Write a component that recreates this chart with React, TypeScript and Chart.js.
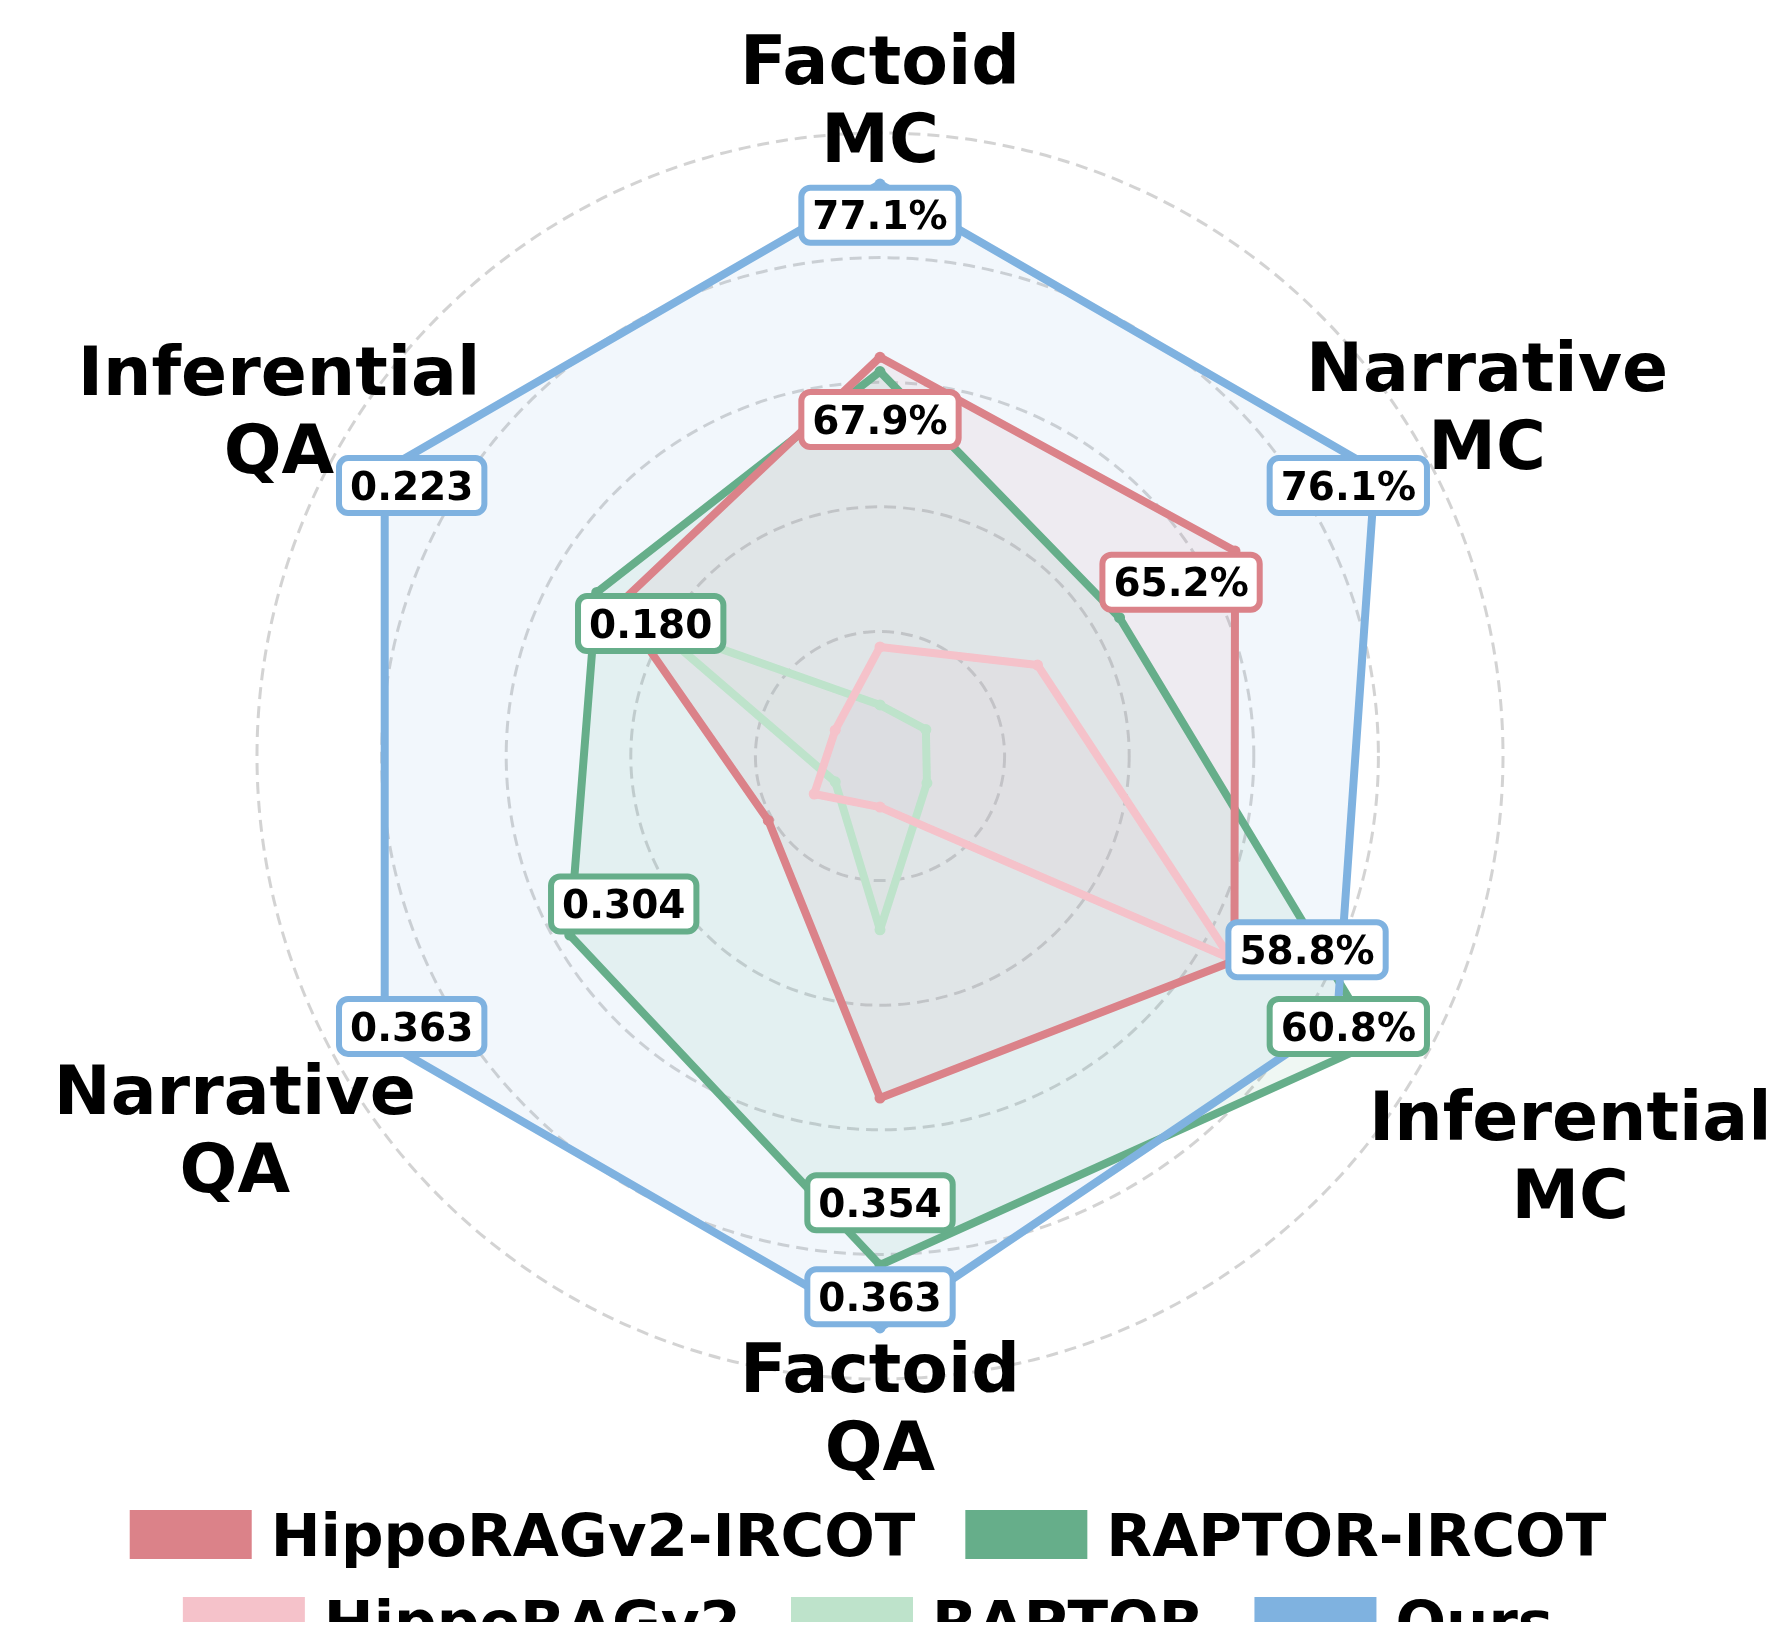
import React, { useEffect, useRef } from "react";
import { Chart, registerables } from "chart.js";

Chart.register(...registerables);

// ---------------- data ----------------
const AXIS_LABELS: string[][] = [
  ["Factoid", "MC"],
  ["Narrative", "MC"],
  ["Inferential", "MC"],
  ["Factoid", "QA"],
  ["Narrative", "QA"],
  ["Inferential", "QA"],
];

const SERIES_NAMES = ["HippoRAGv2-IRCOT", "RAPTOR-IRCOT", "HippoRAGv2", "RAPTOR", "Ours"];

// normalized (plotted) scores per axis, in AXIS_LABELS order
const HIPPORAG_IRCOT = [0.64, 0.658, 0.657, 0.549, 0.207, 0.485];
const RAPTOR_IRCOT = [0.617, 0.444, 0.918, 0.817, 0.575, 0.525];
const HIPPORAG = [0.175, 0.292, 0.65, 0.082, 0.122, 0.083];
const RAPTOR = [0.082, 0.085, 0.087, 0.279, 0.083, 0.421];
const OURS = [0.918, 0.918, 0.847, 0.918, 0.918, 0.918];

// annotated raw scores (best and runner-up on each axis)
const BEST_SERIES = [4, 4, 1, 4, 4, 4];
const BEST_SCORES = ["77.1%", "76.1%", "60.8%", "0.363", "0.363", "0.223"];
const SECOND_SERIES = [0, 0, 4, 1, 1, 1];
const SECOND_SCORES = ["67.9%", "65.2%", "58.8%", "0.354", "0.304", "0.180"];

const LEGEND_ROWS = [
  [0, 1],
  [2, 3, 4],
];

// ---------------- style / layout ----------------
const COLORS = ["#DB8289", "#66AE8A", "#F5C2CA", "#BEE3CB", "#7FB2E0"];
const FILL_ALPHA = 0.1;
const DRAW_ORDER = [1, 2, 3, 4, 0];
const FONT = '"DejaVu Sans", "Liberation Sans", sans-serif';
const AXIS_FONT = 68;
const AXIS_LINE = 78;
const AXIS_LABEL_GAP = [35, 78, 174, 27, 122, 71];
const TAG_FONT = 39;
const BEST_DROP = 0.05;
const SECOND_DROP = 0.1;
const SECOND_NUDGE = [
  [0, 0],
  [0, 0],
  [24, -39],
  [0, 0],
  [0, 0],
  [0, 0],
];
const LEGEND_FONT = 59.5;
const LEGEND_CENTER_X = 860;
const LEGEND_ROW_TOP = [1502, 1589];
const CANVAS_W = 1768;
const CANVAS_H = 1622;

function hexToRgba(hex: string, a: number) {
  const n = parseInt(hex.slice(1), 16);
  return `rgba(${(n >> 16) & 255},${(n >> 8) & 255},${n & 255},${a})`;
}

const overlayPlugin = {
  id: "overlay",
  afterDatasetsDraw(chart: any) {
    const ctx: CanvasRenderingContext2D = chart.ctx;
    const scale = chart.scales.r;
    ctx.save();

    // axis titles
    ctx.fillStyle = "#000";
    ctx.textAlign = "center";
    ctx.textBaseline = "alphabetic";
    ctx.font = `bold ${AXIS_FONT}px ${FONT}`;
    const cap = 0.729 * AXIS_FONT;
    AXIS_LABELS.forEach((lines, i) => {
      const p = scale.getPointPosition(i, scale.drawingArea + AXIS_LABEL_GAP[i]);
      const b1 = p.y + cap / 2 - AXIS_LINE / 2;
      lines.forEach((t, k) => ctx.fillText(t, p.x, b1 + k * AXIS_LINE));
    });

    // score tags
    ctx.font = `bold ${TAG_FONT}px ${FONT}`;
    const drawTag = (axis: number, series: number, text: string, drop: number, nudge: number[]) => {
      const v = chart.data.datasets[series].data[axis] as number;
      const p = scale.getPointPositionForValue(axis, v - drop);
      const cx = p.x + nudge[0];
      const cy = p.y + nudge[1];
      const tw = ctx.measureText(text).width;
      const w = tw + 22;
      const h = 55;
      ctx.beginPath();
      (ctx as any).roundRect(cx - w / 2, cy - h / 2, w, h, 9);
      ctx.fillStyle = "#ffffff";
      ctx.fill();
      ctx.lineWidth = 6;
      ctx.strokeStyle = COLORS[series];
      ctx.stroke();
      ctx.fillStyle = "#000";
      ctx.fillText(text, cx, cy + 0.3645 * TAG_FONT);
    };
    AXIS_LABELS.forEach((_, i) => {
      drawTag(i, SECOND_SERIES[i], SECOND_SCORES[i], SECOND_DROP, SECOND_NUDGE[i]);
      drawTag(i, BEST_SERIES[i], BEST_SCORES[i], BEST_DROP, [0, 0]);
    });

    // legend
    ctx.font = `bold ${LEGEND_FONT}px ${FONT}`;
    ctx.textAlign = "left";
    const boxW = 122;
    const boxH = 49;
    const gap = 19;
    const itemGap = 50;
    LEGEND_ROWS.forEach((row, r) => {
      const widths = row.map((s) => boxW + gap + ctx.measureText(SERIES_NAMES[s]).width);
      const total = widths.reduce((a, b) => a + b, 0) + itemGap * (row.length - 1);
      let x = LEGEND_CENTER_X - total / 2;
      const top = LEGEND_ROW_TOP[r];
      row.forEach((s, k) => {
        ctx.fillStyle = COLORS[s];
        ctx.fillRect(x, top, boxW, boxH);
        ctx.fillStyle = "#000";
        ctx.fillText(SERIES_NAMES[s], x + boxW + gap, top + boxH / 2 + 0.3645 * LEGEND_FONT);
        x += widths[k] + itemGap;
      });
    });
    ctx.restore();
  },
};

export default function App() {
  const ref = useRef<HTMLCanvasElement>(null);

  useEffect(() => {
    if (!ref.current) return;
    const series = [HIPPORAG_IRCOT, RAPTOR_IRCOT, HIPPORAG, RAPTOR, OURS];
    const chart = new Chart(ref.current, {
      type: "radar",
      data: {
        labels: AXIS_LABELS.map((l) => l.join(" ")),
        datasets: series.map((d, i) => ({
          label: SERIES_NAMES[i],
          data: d,
          order: DRAW_ORDER[i],
          borderColor: COLORS[i],
          backgroundColor: hexToRgba(COLORS[i], FILL_ALPHA),
          fill: true,
          borderWidth: 8,
          borderJoinStyle: "round",
          borderCapStyle: "round",
          pointRadius: 5.5,
          pointBorderWidth: 0,
          pointBackgroundColor: COLORS[i],
          pointHoverRadius: 5.5,
        })),
      },
      options: {
        responsive: false,
        animation: false,
        devicePixelRatio: 1,
        layout: { padding: { left: 249, right: 273, top: 125, bottom: 251 } },
        plugins: {
          legend: { display: false },
          tooltip: { enabled: false },
          filler: { drawTime: "beforeDatasetsDraw" },
        },
        elements: { line: { tension: 0 } },
        scales: {
          r: {
            min: 0,
            max: 1,
            ticks: { display: false, stepSize: 0.2 },
            pointLabels: { display: false },
            angleLines: { display: false },
            grid: { circular: true, color: "rgba(150,150,150,0.42)", lineWidth: 3 },
            border: { dash: [12, 7] },
          },
        },
      } as any,
      plugins: [overlayPlugin],
    } as any);
    return () => chart.destroy();
  }, []);

  return (
    <div style={{ height: 1614 }}>
      <canvas
        ref={ref}
        width={CANVAS_W}
        height={CANVAS_H}
        style={{ display: "block", width: CANVAS_W, height: CANVAS_H }}
      />
    </div>
  );
}
